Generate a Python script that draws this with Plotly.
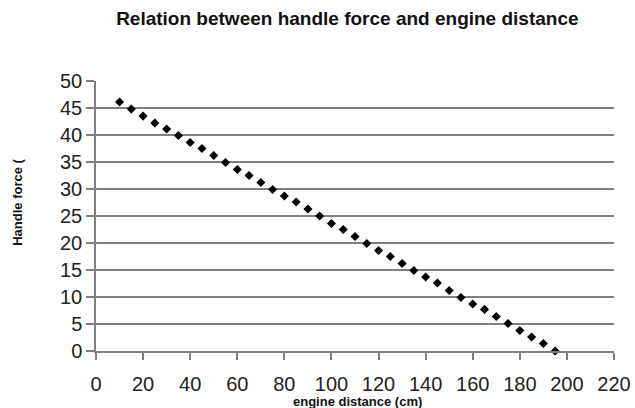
import plotly.graph_objects as go

distance_cm = [10, 15, 20, 25, 30, 35, 40, 45, 50, 55, 60, 65, 70, 75, 80, 85, 90, 95,
               100, 105, 110, 115, 120, 125, 130, 135, 140, 145, 150, 155, 160, 165, 170,
               175, 180, 185, 190, 195]
handle_force = [46.1, 44.8, 43.5, 42.2, 41.1, 39.9, 38.6, 37.5, 36.2, 34.9, 33.6, 32.5,
                31.2, 29.9, 28.7, 27.6, 26.3, 25.0, 23.6, 22.5, 21.2, 19.9, 18.6, 17.5,
                16.2, 14.9, 13.7, 12.6, 11.2, 9.9, 8.7, 7.7, 6.4, 5.1, 3.8, 2.6, 1.4, 0.0]

x_ticks = list(range(0, 221, 20))
y_ticks = list(range(0, 51, 5))
grid_vals = list(range(0, 50, 5))

title_text = "Relation between handle force and engine distance"
x_title = "engine distance (cm)"
y_title = "Handle force ("

FONT = "Liberation Sans, Arial, sans-serif"
GRAY = "#7f7f7f"

fig = go.Figure()
fig.add_trace(go.Scatter(
    x=distance_cm, y=handle_force, mode="markers",
    marker=dict(symbol="diamond", size=7, color="black"),
    showlegend=False, hoverinfo="x+y", cliponaxis=False,
))
# invisible trace to activate the grid axis
fig.add_trace(go.Scatter(x=[None], y=[None], yaxis="y2", showlegend=False))

fig.update_layout(
    width=635, height=408,
    paper_bgcolor="white", plot_bgcolor="white",
    margin=dict(l=96, r=21, t=81, b=57, autoexpand=False),
    font=dict(family=FONT, color="#222222"),
    title=dict(text="<b>" + title_text + "</b>", x=0.547, xanchor="center",
               y=0.955, yanchor="middle",
               font=dict(family=FONT, size=19, color="#111111")),
    xaxis=dict(range=[0, 220], tickvals=x_ticks, ticktext=[str(v) for v in x_ticks],
               showgrid=False, zeroline=False, showline=True, linecolor=GRAY, linewidth=1.5,
               ticks="outside", ticklen=7, tickcolor=GRAY, tickwidth=1.5, automargin=False,
               tickfont=dict(size=20, color="#222222"), ticklabelstandoff=7),
    yaxis=dict(range=[0, 50], tickvals=y_ticks, ticktext=[str(v) for v in y_ticks],
               showgrid=False, zeroline=False, showline=True, linecolor=GRAY, linewidth=1.5,
               ticks="outside", ticklen=8, tickcolor=GRAY, tickwidth=1.5, automargin=False,
               tickfont=dict(size=20, color="#222222")),
    yaxis2=dict(range=[0, 50], overlaying="y", tickvals=grid_vals, showticklabels=False,
                showgrid=True, gridcolor=GRAY, gridwidth=1.5, zeroline=False,
                showline=False, ticks="", automargin=False),
    annotations=[
        dict(text="<b>" + x_title + "</b>", xref="paper", yref="paper",
             x=0.504, y=-0.188, xanchor="center", yanchor="middle", showarrow=False,
             font=dict(family=FONT, size=13, color="#111111")),
        dict(text="<b>" + y_title + "</b>", xref="paper", yref="paper",
             x=-0.152, y=0.55, xanchor="center", yanchor="middle", showarrow=False,
             textangle=-90, font=dict(family=FONT, size=13, color="#111111")),
    ],
)

fig.write_html("out.html", config={"displayModeBar": False},
               post_script="document.body.style.margin='0';document.body.style.overflow='hidden';")
